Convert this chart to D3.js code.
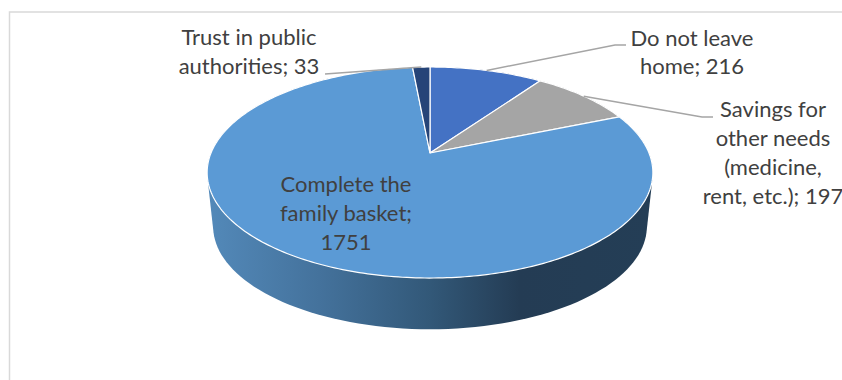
<!DOCTYPE html>
<html>
<head>
<meta charset="utf-8">
<script src="https://cdn.jsdelivr.net/npm/d3@7"></script>
<style>
  html, body { margin: 0; padding: 0; background: #fff; overflow: hidden; }
  svg { display: block; }
  text { font-family: Lato, "Open Sans", sans-serif; font-size: 22px; fill: #404040; }
</style>
</head>
<body>
<svg id="chart" width="842" height="380"></svg>
<script>
// Reasons and their counts, clockwise from twelve o'clock
const categories = ["Do not leave home", "Savings for other needs (medicine, rent, etc.)", "Complete the family basket", "Trust in public authorities"];
const counts = [216, 197, 1751, 33];
const sliceColors = ["#4472c4", "#a5a5a5", "#5b9ad5", "#264478"];

// Wrapped label lines: text, then line baselines
const labelLines = [
  ["Do not leave", "home; 216"],
  ["Savings for", "other needs", "(medicine,", "rent, etc.); 197"],
  ["Complete the", "family basket;", "1751"],
  ["Trust in public", "authorities; 33"]
];
const labelCentres = [692, 773, 346, 249];
const labelBaselines = [[46, 74], [117, 146, 175, 204], [192, 221, 250], [45, 74]];
// Leader line elbows after the slice anchor; the big slice has none
const leaderElbows = [[[615, 45], [626, 45]], [[702, 117], [713, 117]], null, [[325, 74]]];

// Tilted-disc perspective
const cx = 430, apexY = 153, depthDrop = 54.6;
const spanX = 219, spanY = 101.9, tilt = 0.185, baseShrink = 0.973;

function project(angle, radius = 1, shrink = 1, drop = 0) {
  const X = Math.sin(angle) * radius, Y = -Math.cos(angle) * radius;
  const w = 1 - tilt * Y;
  return [cx + shrink * spanX * X / w, apexY + drop + shrink * spanY * Y / w];
}

const svg = d3.select("#chart");
const line = d3.line();

// Chart frame, running off the right and bottom edges
svg.append("path")
  .attr("d", "M842,12H9.5V380")
  .attr("fill", "none").attr("stroke", "#d9d9d9").attr("stroke-width", 1.5);

// Side wall shading
const defs = svg.append("defs");
const wallGradient = defs.append("linearGradient")
  .attr("id", "wall").attr("gradientUnits", "userSpaceOnUse")
  .attr("x1", 208).attr("x2", 653).attr("y1", 0).attr("y2", 0);
[[0, "#5389b9"], [0.25, "#44729c"], [0.5, "#325878"], [0.7, "#243c54"], [1, "#243e56"]]
  .forEach(([o, c]) => wallGradient.append("stop").attr("offset", o).attr("stop-color", c));

const sweep = d3.range(0, 360, 2).map(d => d * Math.PI / 180);
const hull = d3.polygonHull(sweep.flatMap(a => [project(a), project(a, 1, baseShrink, depthDrop)]));
svg.append("path")
  .attr("d", line(hull) + "Z")
  .attr("fill", "url(#wall)");

// Top surface slices
const pie = d3.pie().sort(null).startAngle(0).endAngle(2 * Math.PI);
const arcs = pie(counts);

svg.append("g").selectAll("path")
  .data(arcs)
  .join("path")
  .attr("d", d => {
    const n = Math.max(4, Math.ceil((d.endAngle - d.startAngle) * 60));
    const rim = d3.range(n + 1).map(i => project(d.startAngle + (d.endAngle - d.startAngle) * i / n));
    return line([[cx, apexY], ...rim]) + "Z";
  })
  .attr("fill", (d, i) => sliceColors[i])
  .attr("stroke", "#fff").attr("stroke-width", 1.2).attr("stroke-linejoin", "round");

// Leader lines from slice rim to label
svg.append("g").selectAll("path")
  .data(arcs.filter((d, i) => leaderElbows[i]))
  .join("path")
  .attr("d", d => line([project((d.startAngle + d.endAngle) / 2), ...leaderElbows[d.index]]))
  .attr("fill", "none").attr("stroke", "#a5a5a5").attr("stroke-width", 1.5);

// Data labels
const labels = svg.append("g").selectAll("text")
  .data(categories)
  .join("text")
  .attr("text-anchor", "middle");
labels.selectAll("tspan")
  .data((d, i) => labelLines[i].map((t, j) => ({ t, x: labelCentres[i], y: labelBaselines[i][j] })))
  .join("tspan")
  .attr("x", d => d.x).attr("y", d => d.y)
  .text(d => d.t);
</script>
</body>
</html>
